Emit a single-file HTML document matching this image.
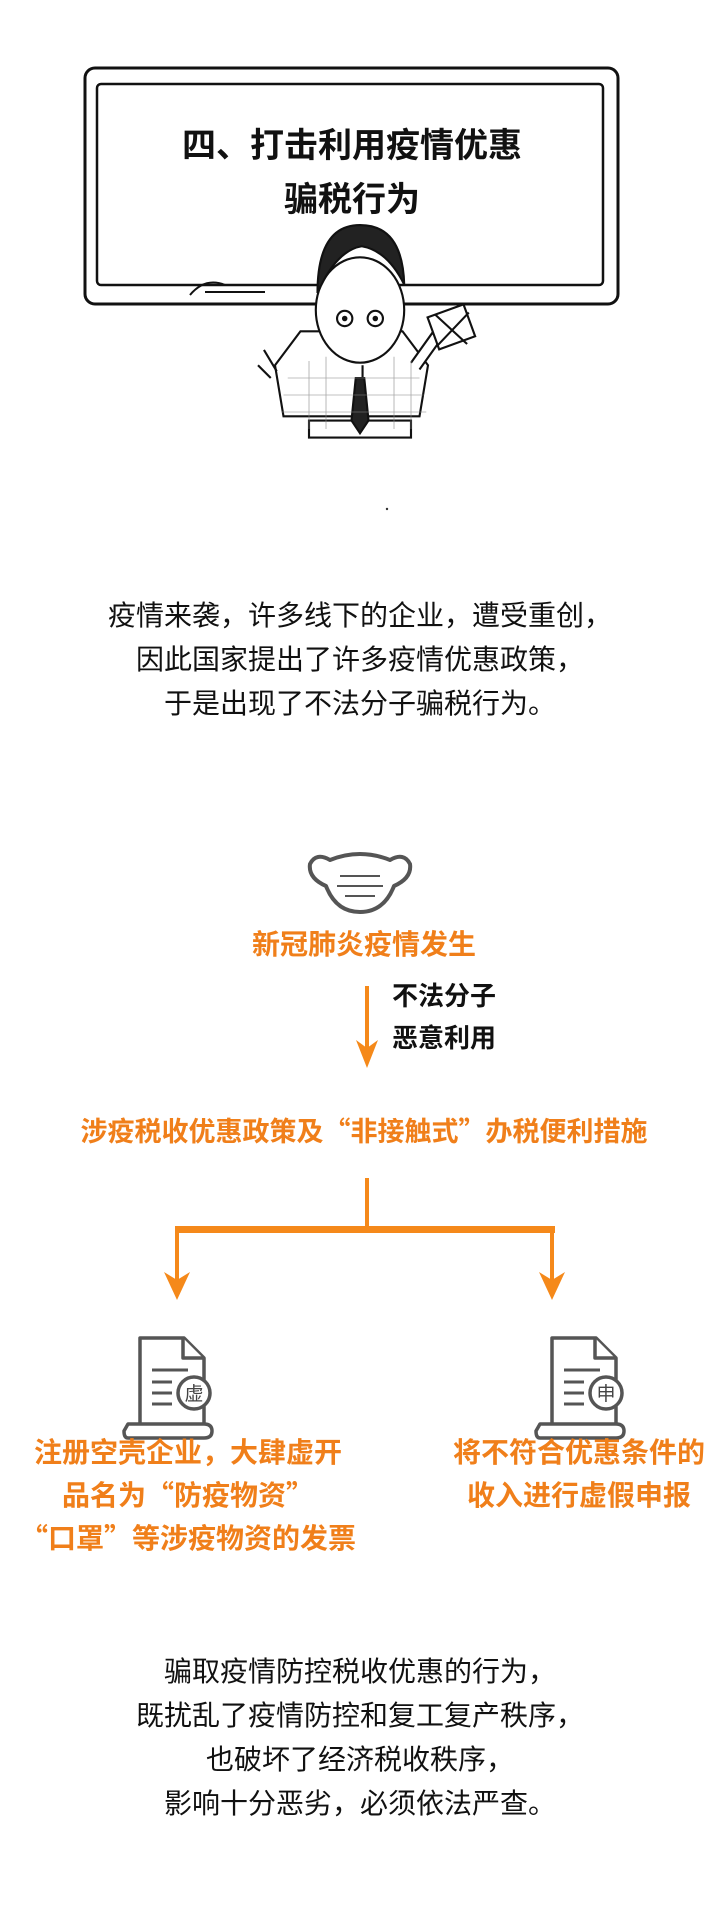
<!DOCTYPE html>
<html><head><meta charset="utf-8"><style>
body{margin:0;background:#fff;}
#c{position:relative;width:720px;height:1928px;overflow:hidden;background:#fff;font-family:"Liberation Sans","Noto Sans CJK SC",sans-serif;}
.t{position:absolute;left:0;width:720px;text-align:center;white-space:nowrap;}
.o{color:#f07f1a;font-weight:bold;font-family:"Noto Sans CJK SC",sans-serif;}
.b{color:#111;}
</style></head><body><div id="c">
<svg width="720" height="1928" style="position:absolute;left:0;top:0">
<!-- blackboard -->
<rect x="85" y="68" width="533" height="236" rx="10" fill="#fff" stroke="#111" stroke-width="3"/>
<rect x="97" y="84" width="506" height="201" rx="4" fill="none" stroke="#111" stroke-width="2.5"/>
<path d="M190 295 q15 -18 35 -10 M205 292 h60" stroke="#111" stroke-width="2" fill="none"/>
<!-- character -->
<g transform="translate(54,21) scale(0.85)">
<g stroke="#111" stroke-width="2.5" fill="#fff">
<path d="M300 470 h120 v20 h-120z"/>
<path d="M290 365 l-30 40 l10 60 h160 l10-60 l-30-40 z"/>
<path d="M262 412 l-15 -25 M255 420 l-15 -15"/>
<path d="M430 410 l25 -35 l-10 -8 l-25 35"/>
<rect x="445" y="340" width="45" height="40" transform="rotate(-20 467 360)"/>
<path d="M448 345 l38 35 M488 343 l-38 40"/>
<ellipse cx="360" cy="340" rx="52" ry="62"/>
<path d="M310 320 q0 -80 50 -80 q50 0 52 70 q-20 -40 -50 -45 q-30 5 -52 55z" fill="#222"/>
<circle cx="342" cy="350" r="9"/><circle cx="378" cy="350" r="9"/>
<circle cx="342" cy="350" r="2" fill="#111"/><circle cx="378" cy="350" r="2" fill="#111"/>
<path d="M363 405 v20" />
<path d="M355 420 l10 0 l5 50 l-10 15 l-10 -15z" fill="#222"/>
</g>
<g stroke="#888" stroke-width="1" opacity=".7">
<path d="M275 420 h155 M270 440 h165 M268 460 h170 M300 400 v80 M320 395 v85 M400 395 v85 M420 400 v80"/>
</g>
</g>
<circle cx="387" cy="509" r="1.2" fill="#333"/>
<!-- mask -->
<g stroke="#555" stroke-width="4" fill="none" stroke-linejoin="round">
<path d="M330 860 q30 -12 60 0 q14 -8 20 4 q2 14 -16 22 q-10 26 -34 26 q-24 0 -34 -26 q-18 -8 -16 -22 q6 -12 20 -4z"/>
<path d="M340 876 h40 M337 886 h46 M345 896 h30" stroke-width="2"/>
</g>
<!-- arrows -->
<g stroke="#f5891a" fill="#f5891a">
<line x1="367" y1="986" x2="367" y2="1062" stroke-width="4"/>
<path d="M356 1040 l11 28 l11 -28 l-11 8z" stroke="none"/>
<line x1="367" y1="1178" x2="367" y2="1228" stroke-width="4"/>
<rect x="175" y="1226" width="380" height="7" stroke="none"/>
<line x1="177" y1="1228" x2="177" y2="1292" stroke-width="4"/>
<line x1="552" y1="1228" x2="552" y2="1292" stroke-width="4"/>
<path d="M164 1272 l13 28 l13 -28 l-13 8z M539 1272 l13 28 l13 -28 l-13 8z" stroke="none"/>
</g>
<!-- docs -->
<g stroke="#555" stroke-width="3.5" fill="#fff" stroke-linejoin="round">
<path d="M140 1338 h44 l20 20 v70 h-64z"/>
<path d="M183 1338 v20 h20"/>
<path d="M128 1424 h76 q8 0 8 7 q0 7 -8 7 h-76 q-4 0 -4 -7z"/>
<path d="M152 1370 h36 M152 1382 h20 M152 1393 h20 M152 1404 h20" stroke-width="3"/>
<circle cx="194" cy="1393" r="16"/>
<path d="M552 1338 h44 l20 20 v70 h-64z"/>
<path d="M595 1338 v20 h20"/>
<path d="M540 1424 h76 q8 0 8 7 q0 7 -8 7 h-76 q-4 0 -4 -7z"/>
<path d="M564 1370 h36 M564 1382 h20 M564 1393 h20 M564 1404 h20" stroke-width="3"/>
<circle cx="606" cy="1393" r="16"/>
</g>
<text x="194" y="1400" font-size="19" text-anchor="middle" fill="#444" font-family="Noto Sans CJK SC">虚</text>
<text x="606" y="1400" font-size="19" text-anchor="middle" fill="#444" font-family="Noto Sans CJK SC">申</text>
</svg>

<div class="t b" style="top:119px;font-size:34px;font-weight:bold;line-height:54px;left:-8px;">四、打击利用疫情优惠<br>骗税行为</div>

<div class="t b" style="top:594px;font-size:28px;line-height:44px;">疫情来袭，许多线下的企业，遭受重创，<br>因此国家提出了许多疫情优惠政策，<br>于是出现了不法分子骗税行为。</div>

<div class="t o" style="top:921px;font-size:28px;left:4px;line-height:44px;">新冠肺炎疫情发生</div>
<div class="b" style="position:absolute;left:392px;top:975px;font-size:26px;font-weight:bold;line-height:42px;">不法分子<br>恶意利用</div>
<div class="t o" style="top:1108px;font-size:27px;left:4px;line-height:44px;">涉疫税收优惠政策及“非接触式”办税便利措施</div>

<div class="t o" style="top:1430px;left:-172px;font-size:28px;line-height:43px;">注册空壳企业，大肆虚开<br>品名为“防疫物资”<br>“口罩”等涉疫物资的发票</div>
<div class="t o" style="top:1430px;left:219px;font-size:28px;line-height:43px;">将不符合优惠条件的<br>收入进行虚假申报</div>

<div class="t b" style="top:1650px;font-size:28px;line-height:44px;">骗取疫情防控税收优惠的行为，<br>既扰乱了疫情防控和复工复产秩序，<br>也破坏了经济税收秩序，<br>影响十分恶劣，必须依法严查。</div>
</div></body></html>
